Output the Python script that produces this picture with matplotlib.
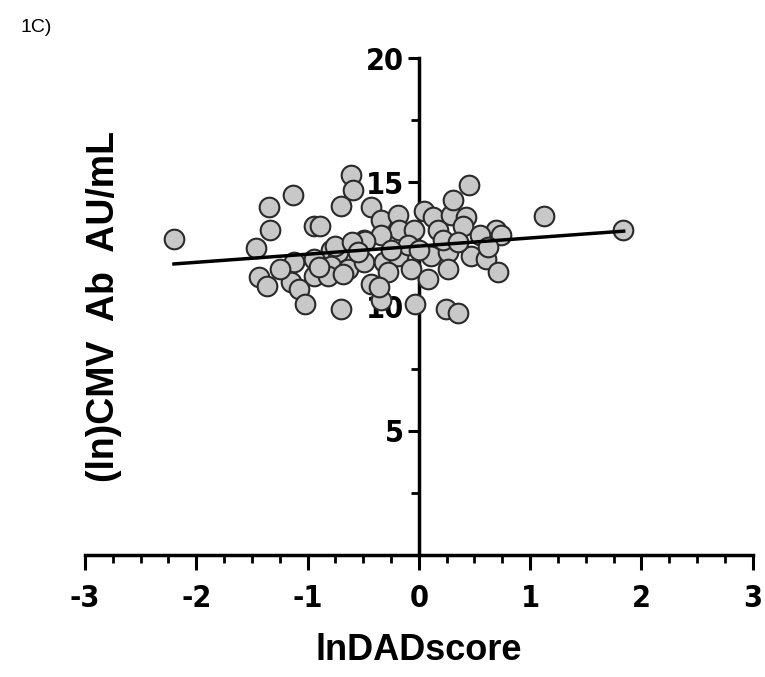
import numpy as np
import matplotlib
matplotlib.use("Agg")
import matplotlib.pyplot as plt
from matplotlib.ticker import MultipleLocator, FixedLocator

# values
dad_score = [
    -2.20, -1.35, -1.34, -1.46, -1.44, -1.36, -1.13, -0.94, -0.89, -0.61,
    -0.59, -0.70, -0.43, -0.34, -0.19, -0.18, -0.49, -0.34, 0.05, 0.13,
    0.29, 0.31, 0.42, 0.40, 0.45, 0.17, -0.04, -0.79, -0.73, -1.12,
    -0.94, -0.79, -0.64, -0.49, -0.31, -0.19, -0.07, 0.11, 0.26, 0.47,
    0.26, 0.08, -1.15, -1.08, -0.94, -0.82, -0.68, -0.43, -0.28, -1.02,
    -0.70, -0.34, -0.03, 0.24, 0.35, 0.69, 0.74, 0.60, 0.71, 1.12,
    1.83, -0.48, -0.75, -0.60, 0.22, 0.55, -0.10, 0.00, -1.25, -0.36,
    0.62, -0.25, 0.35, -0.55, -0.90,
]
cmv_ab = [
    12.72, 14.0, 13.1, 12.35, 11.2, 10.85, 14.5, 13.25, 13.25, 15.3,
    14.7, 14.05, 14.0, 13.5, 13.7, 13.1, 12.7, 12.9, 13.85, 13.6,
    13.7, 14.3, 13.6, 13.25, 14.9, 13.1, 13.1, 12.3, 12.2, 11.8,
    11.9, 11.65, 11.5, 11.8, 11.8, 12.05, 11.5, 12.05, 12.2, 12.05,
    11.5, 11.1, 11.0, 10.7, 11.25, 11.25, 11.3, 10.9, 11.4, 10.1,
    9.9, 10.25, 10.1, 9.9, 9.75, 13.1, 12.9, 11.9, 11.4, 13.65,
    13.1, 12.65, 12.45, 12.6, 12.7, 12.9, 12.5, 12.3, 11.5, 10.8,
    12.4, 12.3, 12.6, 12.2, 11.6,
]
fit_x = [-2.20, 1.84]
fit_y = [11.72, 13.04]

x_ticks = [-3, -2, -1, 0, 1, 2, 3]
y_ticks = [5, 10, 15, 20]

tick_font = dict(family="DejaVu Sans", stretch="condensed", weight="bold", size=22)
label_font = dict(family=["Liberation Sans", "DejaVu Sans"], weight="bold", size=26)

fig = plt.figure(figsize=(7.65, 6.77), dpi=100)
ax = fig.add_axes([0.111, 0.180, 0.873, 0.734])

ax.scatter(dad_score, cmv_ab, s=200, facecolor="#c8c8c8", edgecolor="#2a2a2a",
           linewidth=1.5, zorder=3)
ax.plot(fit_x, fit_y, color="black", linewidth=2.5, zorder=4)

ax.set_xlim(-3, 3)
ax.set_ylim(0, 20)

ax.spines["left"].set_position(("data", 0))
ax.spines["bottom"].set_position(("data", 0))
ax.spines["top"].set_visible(False)
ax.spines["right"].set_visible(False)
for s in ("left", "bottom"):
    ax.spines[s].set_linewidth(2.5)
    ax.spines[s].set_zorder(2)

ax.xaxis.set_major_locator(FixedLocator(x_ticks))
ax.xaxis.set_minor_locator(MultipleLocator(0.25))
ax.yaxis.set_major_locator(FixedLocator(y_ticks))
ax.yaxis.set_minor_locator(FixedLocator([2.5, 7.5, 12.5, 17.5]))
ax.tick_params(axis="x", which="major", direction="out", length=11, width=2.2, pad=10)
ax.tick_params(axis="x", which="minor", direction="out", length=6, width=2.0)
ax.tick_params(axis="y", which="major", direction="out", length=8, width=2.2, pad=3)
ax.tick_params(axis="y", which="minor", direction="out", length=6, width=2.0)

ax.set_xticklabels([str(v) for v in x_ticks], fontdict=tick_font)
ax.set_yticklabels([str(v) for v in y_ticks], fontdict=tick_font)
for lab in ax.get_yticklabels():
    lab.set_zorder(1)

ax.set_xlabel("lnDADscore", fontdict=label_font, labelpad=14)
ax.set_ylabel("(ln)CMV  Ab  AU/mL", fontdict=dict(label_font, size=27))
ax.yaxis.set_label_coords(0.055, 0.5)

fig.text(0.027, 0.952, "1C)", fontsize=14, family="Liberation Sans")

fig.savefig("out.png", dpi=100)
